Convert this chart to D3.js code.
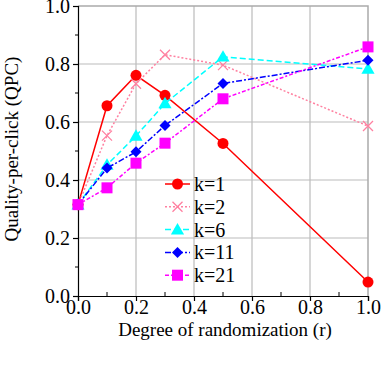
<!DOCTYPE html>
<html>
<head>
<meta charset="utf-8">
<script src="https://cdn.jsdelivr.net/npm/d3@7"></script>
<style>
  body { margin: 0; background: #fff; }
  svg { display: block; }
</style>
</head>
<body>
<svg id="chart"></svg>
<script>
// data
var rValues = [0, 0.1, 0.2, 0.3, 0.5, 1.0];
var k1 = [0.315, 0.656, 0.761, 0.692, 0.526, 0.048];
var k2 = [0.315, 0.553, 0.732, 0.832, 0.796, 0.586];
var k6 = [0.315, 0.452, 0.552, 0.664, 0.825, 0.783];
var k11 = [0.315, 0.441, 0.497, 0.588, 0.733, 0.813];
var k21 = [0.315, 0.373, 0.458, 0.527, 0.680, 0.859];
var seriesNames = ["k=1", "k=2", "k=6", "k=11", "k=21"];
var xTicks = [0, 0.2, 0.4, 0.6, 0.8, 1.0];
var yTicks = [0, 0.2, 0.4, 0.6, 0.8, 1.0];

var width = 383, height = 375;
var margin = {left: 78, right: 15, top: 6, bottom: 79};
var serif = "'Liberation Serif', 'Times New Roman', Times, serif";

var svg = d3.select("#chart").attr("width", width).attr("height", height);

var x = d3.scaleLinear().domain([0, 1]).range([margin.left, width - margin.right]);
var y = d3.scaleLinear().domain([0, 1]).range([height - margin.bottom, margin.top]);

var styles = [
  {color: "#ff0000", dash: null, marker: "circle"},
  {color: "#ff80a0", dash: "2,2", marker: "cross"},
  {color: "#00ffff", dash: "6,3", marker: "triangle"},
  {color: "#0000ff", dash: "6,2,2,2", marker: "diamond"},
  {color: "#ff00ff", dash: "4,2,2,2", marker: "square"}
];
var allSeries = [k1, k2, k6, k11, k21];

// grid
var minor = d3.range(0.1, 1, 0.2);
svg.append("g").selectAll("line").data(xTicks.slice(1, -1)).join("line")
  .attr("x1", d => x(d)).attr("x2", d => x(d))
  .attr("y1", y(0)).attr("y2", y(1))
  .attr("stroke", "#bbb").attr("stroke-width", 1.2);
svg.append("g").selectAll("line").data(yTicks.slice(1, -1)).join("line")
  .attr("x1", x(0)).attr("x2", x(1))
  .attr("y1", d => y(d)).attr("y2", d => y(d))
  .attr("stroke", "#bbb").attr("stroke-width", 1.2);

// frame top/right
svg.append("path")
  .attr("d", "M" + x(0) + "," + y(1) + "H" + x(1) + "V" + y(0))
  .attr("fill", "none").attr("stroke", "#aaa").attr("stroke-width", 1.5);

// axes
var xAxis = svg.append("g").attr("transform", "translate(0," + y(0) + ")")
  .call(d3.axisBottom(x).tickValues(xTicks).tickFormat(d3.format(".1f")).tickSize(5).tickPadding(1));
var yAxis = svg.append("g").attr("transform", "translate(" + x(0) + ",0)")
  .call(d3.axisLeft(y).tickValues(yTicks).tickFormat(d3.format(".1f")).tickSize(5).tickPadding(3));
[xAxis, yAxis].forEach(function(a) {
  a.attr("font-family", null).attr("font-size", null);
  a.select(".domain").attr("stroke", "#000").attr("stroke-width", 1.2);
  a.selectAll(".tick line").attr("stroke", "#000").attr("stroke-width", 1.2);
  a.selectAll("text").style("font-family", serif).style("font-size", "20px").attr("fill", "#000");
});
xAxis.selectAll("text").attr("dy", "0.62em");
yAxis.selectAll("text").attr("dy", "0.34em");
// minor ticks
svg.append("g").selectAll("line").data(minor).join("line")
  .attr("x1", d => x(d)).attr("x2", d => x(d))
  .attr("y1", y(0)).attr("y2", y(0) - 4)
  .attr("stroke", "#000").attr("stroke-width", 1);
svg.append("g").selectAll("line").data(minor).join("line")
  .attr("x1", x(0)).attr("x2", x(0) - 3)
  .attr("y1", d => y(d)).attr("y2", d => y(d))
  .attr("stroke", "#000").attr("stroke-width", 1);

// axis titles
svg.append("text").attr("x", (x(0) + x(1)) / 2 + 2).attr("y", 336)
  .attr("text-anchor", "middle").style("font-family", serif).style("font-size", "19px")
  .text("Degree of randomization (r)");
svg.append("text").attr("transform", "translate(18," + (y(0.5) - 2) + ") rotate(-90)")
  .attr("text-anchor", "middle").style("font-family", serif).style("font-size", "19px")
  .text("Quality-per-click (QPC)");

function drawMarker(g, type, cx, cy, color) {
  if (type === "circle") {
    g.append("circle").attr("cx", cx).attr("cy", cy).attr("r", 5.5).attr("fill", color);
  } else if (type === "cross") {
    var s = 5;
    g.append("path").attr("d", "M" + (cx - s) + "," + (cy - s) + "L" + (cx + s) + "," + (cy + s) +
      "M" + (cx - s) + "," + (cy + s) + "L" + (cx + s) + "," + (cy - s))
      .attr("stroke", color).attr("stroke-width", 1.3).attr("fill", "none");
  } else if (type === "triangle") {
    g.append("path").attr("d", d3.symbol(d3.symbolTriangle, 75)()).attr("transform", "translate(" + cx + "," + (cy + 1) + ")").attr("fill", color);
  } else if (type === "diamond") {
    var r = 5.5;
    g.append("path").attr("d", "M" + cx + "," + (cy - r) + "L" + (cx + r) + "," + cy + "L" + cx + "," + (cy + r) + "L" + (cx - r) + "," + cy + "Z").attr("fill", color);
  } else {
    g.append("rect").attr("x", cx - 5.5).attr("y", cy - 5.5).attr("width", 11).attr("height", 11).attr("fill", color);
  }
}

var line = d3.line().x((d, i) => x(rValues[i])).y(d => y(d));

allSeries.forEach(function(vals, si) {
  var st = styles[si];
  var g = svg.append("g");
  g.append("path").datum(vals).attr("d", line)
    .attr("fill", "none").attr("stroke", st.color).attr("stroke-width", 1.5)
    .attr("stroke-dasharray", st.dash);
  vals.forEach(function(v, i) { drawMarker(g, st.marker, x(rValues[i]), y(v), st.color); });
});

// legend
var legY = d3.scaleLinear().domain([0, 1]).range([184, 206.8]);
seriesNames.forEach(function(name, i) {
  var st = styles[i];
  var ly = legY(i);
  var g = svg.append("g");
  g.append("line").attr("x1", 165).attr("x2", 190).attr("y1", ly).attr("y2", ly)
    .attr("stroke", st.color).attr("stroke-width", 1.5).attr("stroke-dasharray", st.dash);
  drawMarker(g, st.marker, 177.5, ly, st.color);
  g.append("text").attr("x", 194).attr("y", ly + 7)
    .style("font-family", serif).style("font-size", "20px").text(name);
});
</script>
</body>
</html>
